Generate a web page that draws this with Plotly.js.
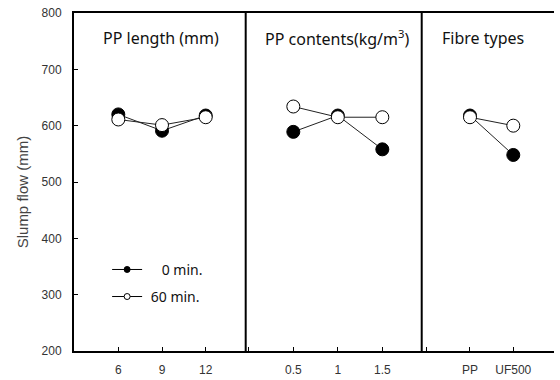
<!DOCTYPE html>
<html><head><meta charset="utf-8">
<script src="https://cdn.plot.ly/plotly-3.0.1.min.js"></script>
<style>html,body{margin:0;padding:0;background:#fff}#chart{width:560px;height:380px}</style>
</head><body><div id="chart"></div>
<script>
// ---- data ----
const lengthCats = ['6', '9', '12'];
const lengthFlow0 = [620, 591, 618];
const lengthFlow60 = [611, 601, 615];

const contentCats = ['0.5', '1', '1.5'];
const contentFlow0 = [589, 618, 558];
const contentFlow60 = [634, 615, 615];

const fibreCats = ['PP', 'UF500'];
const fibreFlow0 = [618, 548];
const fibreFlow60 = [615, 600];

const panelTitles = ['PP length (mm)', 'PP contents(kg/m<sup>3</sup>)', 'Fibre types'];
const seriesNames = ['0 min.', '60 min.'];
const yTickVals = [200, 300, 400, 500, 600, 700, 800];
const yTitle = 'Slump flow (mm)';

// ---- build ----
const panels = [
  {cats: lengthCats, f0: lengthFlow0, f60: lengthFlow60, ax: 'x', range: [-1.014, 2.915]},
  {cats: contentCats, f0: contentFlow0, f60: contentFlow60, ax: 'x2', range: [-1.07, 2.885]},
  {cats: fibreCats, f0: fibreFlow0, f60: fibreFlow60, ax: 'x3', range: [-1.115, 1.94]}
];
const d1 = 0.3577, d2 = 0.7244;
const domains = [[0, d1], [d1, d2], [d2, 1]];
const titleX = [0.181, 0.547, 0.852];

const traces = [];
panels.forEach(p => {
  const xs = p.cats.map((c, i) => i);
  traces.push({x: xs, y: p.f0, xaxis: p.ax, yaxis: 'y', mode: 'lines+markers', showlegend: false,
    line: {color: '#222', width: 1}, marker: {size: 13, color: '#000', line: {color: '#000', width: 1}}});
  traces.push({x: xs, y: p.f60, xaxis: p.ax, yaxis: 'y', mode: 'lines+markers', showlegend: false,
    line: {color: '#222', width: 1}, marker: {size: 13, color: '#fff', line: {color: '#000', width: 1}}});
});
// legend-only entries (no data)
traces.push({x: [null], y: [null], mode: 'lines+markers', name: '\u00a0\u00a0\u00a0\u00a0' + seriesNames[0], legend: 'legend',
  line: {color: '#000', width: 1}, marker: {size: 6, color: '#000', line: {color: '#000', width: 1}}});
traces.push({x: [null], y: [null], mode: 'lines+markers', name: '\u00a0' + seriesNames[1], legend: 'legend2',
  line: {color: '#000', width: 1}, marker: {size: 6, color: '#fff', line: {color: '#000', width: 1}}});

function xAxis(p, i) {
  return {
    domain: domains[i], range: p.range, anchor: 'y',
    tickmode: 'array', tickvals: p.cats.map((c, j) => j), ticktext: p.cats,
    ticks: 'inside', ticklen: 4, tickwidth: 1, tickcolor: '#000',
    minor: {tickmode: 'array', tickvals: [-1], ticks: 'inside', ticklen: 4, tickwidth: 1, tickcolor: '#000', showgrid: false},
    showgrid: false, zeroline: false, showline: true, mirror: true, linecolor: '#000', linewidth: 2,
    ticklabelstandoff: 7,
    tickfont: {family: 'Liberation Sans, Arial, sans-serif', size: 12, color: '#333'}
  };
}

const annotations = panelTitles.map((t, i) => ({
  text: t, xref: 'paper', yref: 'paper', x: titleX[i], y: 0.925,
  xanchor: 'center', yanchor: 'middle', showarrow: false,
  font: {family: 'Noto Sans, sans-serif', size: 16, color: '#111'}
}));
annotations.push({text: yTitle, xref: 'paper', yref: 'paper', x: -0.108, y: 0.47, textangle: -90,
  xanchor: 'center', yanchor: 'middle', showarrow: false,
  font: {family: 'Liberation Sans, Arial, sans-serif', size: 15, color: '#444'}});

const shapes = [d1, d2].map(d => ({type: 'line', xref: 'paper', yref: 'paper', x0: d, x1: d, y0: 0, y1: 1,
  line: {color: '#000', width: 2}}));

const legendFont = {family: 'Noto Sans, sans-serif', size: 14, color: '#111'};
const layout = {
  width: 560, height: 380,
  margin: {l: 74, r: 6, t: 13, b: 29},
  paper_bgcolor: '#fff', plot_bgcolor: '#fff',
  xaxis: xAxis(panels[0], 0), xaxis2: xAxis(panels[1], 1), xaxis3: xAxis(panels[2], 2),
  yaxis: {range: [200, 800], tickvals: yTickVals, ticks: 'inside', ticklen: 4, tickcolor: '#000',
    showgrid: false, zeroline: false, showline: true, mirror: false, linecolor: '#000', linewidth: 2,
    ticklabelstandoff: 8,
    tickfont: {family: 'Liberation Sans, Arial, sans-serif', size: 12, color: '#333'}},
  legend: {x: 0.069, y: 0.24, xanchor: 'left', yanchor: 'middle', bgcolor: 'rgba(0,0,0,0)', font: legendFont},
  legend2: {x: 0.069, y: 0.16, xanchor: 'left', yanchor: 'middle', bgcolor: 'rgba(0,0,0,0)', font: legendFont},
  annotations: annotations, shapes: shapes
};
Plotly.newPlot('chart', traces, layout, {displayModeBar: false, staticPlot: true});
</script></body></html>
